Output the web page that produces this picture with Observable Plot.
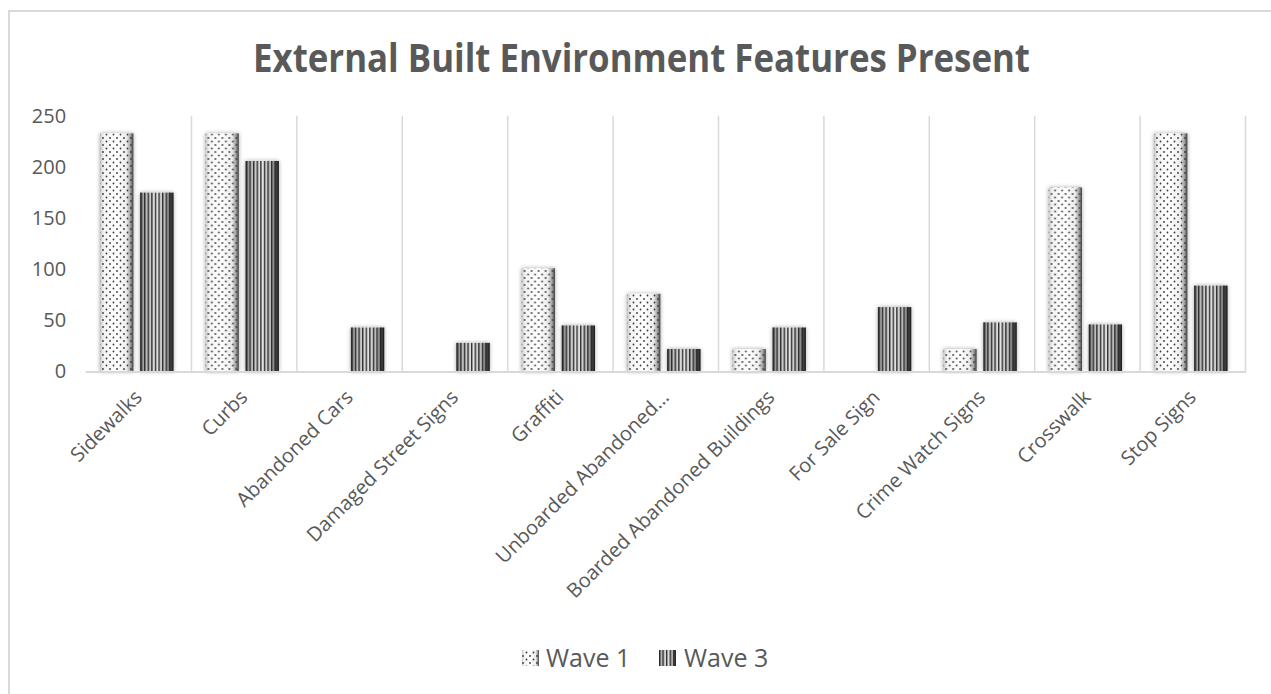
<!DOCTYPE html>
<html>
<head>
<meta charset="utf-8">
<script src="https://cdn.jsdelivr.net/npm/d3@7"></script>
<script src="https://cdn.jsdelivr.net/npm/@observablehq/plot@0.6"></script>
<style>
  html, body { margin: 0; padding: 0; background: #fff; }
  #wrap { position: relative; width: 1271px; height: 694px; overflow: hidden; font-family: "Open Sans", sans-serif; }
  #border { position: absolute; left: 8px; top: 10px; right: -5px; bottom: -5px; border-left: 2px solid #d9d9d9; border-top: 2px solid #d9d9d9; }
  #chart { position: absolute; left: 0; top: 0; }
  #title { position: absolute; left: 0; top: 0; }
  #legend { position: absolute; left: 0; top: 630px; }
</style>
</head>
<body>
<div id="wrap">
  <div id="border"></div>
  <div id="chart"></div>
  <svg id="title" width="1271" height="100">
    <text x="253" y="72" font-family="Open Sans" font-weight="700" font-size="40" fill="#595959" textLength="777" lengthAdjust="spacingAndGlyphs">External Built Environment Features Present</text>
  </svg>
  <svg id="legend" width="1271" height="60"></svg>
</div>
<script>
const categories = ["Sidewalks","Curbs","Abandoned Cars","Damaged Street Signs","Graffiti","Unboarded Abandoned Buildings","Boarded Abandoned Buildings","For Sale Sign","Crime Watch Signs","Crosswalk","Stop Signs"];
const tickLabels = ["Sidewalks","Curbs","Abandoned Cars","Damaged Street Signs","Graffiti","Unboarded Abandoned…","Boarded Abandoned Buildings","For Sale Sign","Crime Watch Signs","Crosswalk","Stop Signs"];
const seriesNames = ["Wave 1","Wave 3"];
const wave1 = [233,233,0,0,101,76,22,0,22,180,233];
const wave3 = [175,206,43,28,45,22,43,63,48,46,84];
const yTicks = [0,50,100,150,200,250];

const rows = categories.flatMap((c, i) => [
  {category: c, wave: seriesNames[0], value: wave1[i]},
  {category: c, wave: seriesNames[1], value: wave3[i]}
]);
const w1 = rows.filter(d => d.wave === seriesNames[0]);
const w3 = rows.filter(d => d.wave === seriesNames[1]);

const svg = Plot.plot({
  width: 1271,
  height: 640,
  marginTop: 116,
  marginBottom: 268.5,
  marginLeft: 85.6,
  marginRight: 26,
  style: {fontFamily: "Open Sans", color: "#595959", background: "transparent", overflow: "visible"},
  fx: {domain: categories, padding: 0, label: null, round: false},
  x: {domain: seriesNames, paddingInner: 0.167, paddingOuter: 0.4, align: 0.45, round: false, axis: null},
  y: {domain: [0, 250], label: null},
  marks: [
    Plot.frame({anchor: "right", stroke: "#d9d9d9", strokeWidth: 1.5, strokeOpacity: 1}),
    Plot.barY(w1, {fx: "category", x: "wave", y: "value", fill: "url(#g1)"}),
    Plot.barY(w1, {fx: "category", x: "wave", y: "value", fill: "url(#dots)"}),
    Plot.barY(w3, {fx: "category", x: "wave", y: "value", fill: "url(#g3)"}),
    Plot.barY(w3, {fx: "category", x: "wave", y: "value", fill: "url(#stripes)"}),
    Plot.ruleY([0], {stroke: "#d9d9d9", strokeWidth: 2}),
    Plot.axisY({ticks: yTicks, tickSize: 0, tickPadding: 20, fontSize: 20, label: null, fill: "#595959"}),
    Plot.axisFx({anchor: "bottom", tickRotate: -45, tickSize: 0, tickPadding: 22, fontSize: 20, label: null, fill: "#595959",
      tickFormat: d => tickLabels[categories.indexOf(d)]})
  ]
});

const defsHTML = `
<linearGradient id="g1" x1="0" y1="0" x2="1" y2="0">
  <stop offset="0" stop-color="#c8c8c8"/>
  <stop offset="0.12" stop-color="#f4f4f4"/>
  <stop offset="0.5" stop-color="#ffffff"/>
  <stop offset="0.8" stop-color="#ececec"/>
  <stop offset="0.92" stop-color="#9a9a9a"/>
  <stop offset="1" stop-color="#3a3a3a"/>
</linearGradient>
<linearGradient id="g3" x1="0" y1="0" x2="1" y2="0">
  <stop offset="0" stop-color="#4a4a4a"/>
  <stop offset="0.12" stop-color="#b0b0b0"/>
  <stop offset="0.5" stop-color="#e6e6e6"/>
  <stop offset="0.8" stop-color="#b0b0b0"/>
  <stop offset="0.92" stop-color="#4a4a4a"/>
  <stop offset="1" stop-color="#1a1a1a"/>
</linearGradient>
<pattern id="dots" width="7" height="7" patternUnits="userSpaceOnUse">
  <circle cx="1.5" cy="1.5" r="0.9" fill="#3a3a3a"/>
  <circle cx="5" cy="5" r="0.9" fill="#3a3a3a"/>
</pattern>
<pattern id="stripes" width="3.6" height="10" patternUnits="userSpaceOnUse">
  <rect x="0" y="0" width="1.4" height="10" fill="#1e1e1e" opacity="0.9"/>
</pattern>
<filter id="sh" x="-30%" y="-10%" width="160%" height="120%">
  <feDropShadow dx="0" dy="0" stdDeviation="2" flood-color="#000" flood-opacity="0.35"/>
</filter>`;
const defs = document.createElementNS("http://www.w3.org/2000/svg", "defs");
defs.innerHTML = defsHTML;
svg.insertBefore(defs, svg.firstChild);
d3.select(svg).selectAll('[fill="url(#g1)"], [fill="url(#g3)"]').attr("filter", "url(#sh)");
document.getElementById("chart").appendChild(svg);

// Legend
const leg = d3.select("#legend");
const items = [
  {name: seriesNames[0], g: "url(#g1)", p: "url(#dots)", sx: 522, tx: 546},
  {name: seriesNames[1], g: "url(#g3)", p: "url(#stripes)", sx: 659, tx: 684}
];
for (const it of items) {
  leg.append("rect").attr("x", it.sx).attr("y", 20).attr("width", 17).attr("height", 16).attr("fill", it.g);
  leg.append("rect").attr("x", it.sx).attr("y", 20).attr("width", 17).attr("height", 16).attr("fill", it.p);
  leg.append("text").attr("x", it.tx).attr("y", 37).attr("font-family", "Open Sans").attr("font-size", 25).attr("fill", "#595959").text(it.name);
}
</script>
</body>
</html>
